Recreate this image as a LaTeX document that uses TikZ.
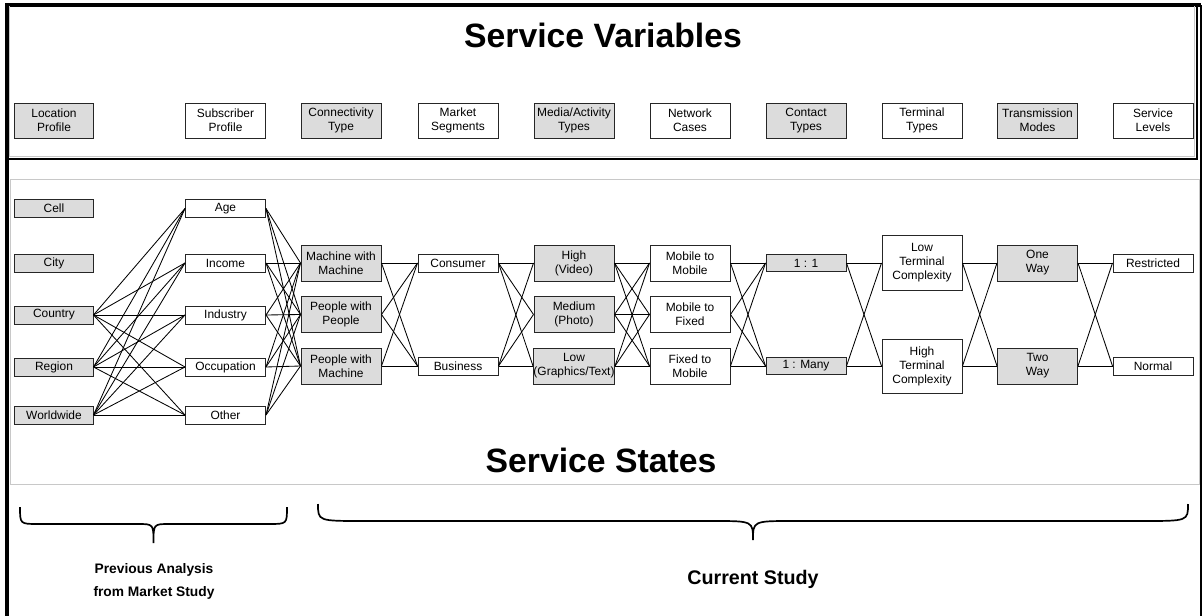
\documentclass[tikz,border=0pt]{standalone}
\usepackage{fontspec}
\setmainfont{Liberation Sans}
\usepackage{tikz}
\definecolor{boxgrey}{RGB}{220,220,220}
\definecolor{panelgrey}{RGB}{200,200,200}
% curly bracket under a group of columns: left, right, top, end curl, tip curl
\newcommand{\studybrace}[5]{%
  \draw[curly] (#1,#3) .. controls (#1,#3+17) .. ({#1+#4},#3+17)
    -- ({(#1+#2)/2-#5},#3+17) .. controls ({(#1+#2)/2},#3+17) .. ({(#1+#2)/2},#3+36)
    .. controls ({(#1+#2)/2},#3+17) .. ({(#1+#2)/2+#5},#3+17)
    -- ({#2-#4},#3+17) .. controls (#2,#3+17) .. (#2,#3);}

\begin{document}
\begin{tikzpicture}[x=0.025cm, y=-0.025cm,
    box/.style={rectangle, draw=black!85, line width=0.7pt, fill=white, inner sep=0pt,
                minimum width=2cm, align=center, font=\fontsize{8.5}{10}\selectfont},
    hdr/.style={box, minimum height=0.875cm},
    st1/.style={box, minimum height=0.45cm},
    st2/.style={box, minimum height=0.9cm},
    st3/.style={box, minimum height=1.35cm},
    gfill/.style={fill=boxgrey},
    link/.style={line width=0.6pt},
    heading/.style={font=\fontsize{24}{28}\selectfont\bfseries},
    note/.style={font=\fontsize{9.8}{16.4}\selectfont\bfseries, align=center},
    curly/.style={line width=1.2pt}]
\useasboundingbox (0,0) rectangle (1203,616);

% outer frame
\draw[line width=0.8pt] (1201,616) -- (1201,5);
\draw[line width=2.2pt] (7,616) -- (7,5) -- (1201,5);
% variables panel
\draw[line width=1pt] (7,159) -- (1197,159) -- (1197,5);
\draw[panelgrey, line width=0.7pt] (9.5,6) -- (9.5,156.5) -- (1194.5,156.5) -- (1194.5,6);
% states panel
\draw[panelgrey, line width=0.7pt] (10,179) rectangle (1199,484);

\node[heading] (tVar) at (603,35) {Service Variables};
\node[heading] (tSta) at (601,460) {Service States};

% variables
\node[hdr, gfill, minimum width=1.95cm] (hLoc) at (54,120.5) {Location\\Profile};
\node[hdr] (hSub) at (225.5,120.5) {Subscriber\\Profile};
\node[hdr, gfill] (hCon) at (341,120.5) {Connectivity\\Type};
\node[hdr] (hMkt) at (458,120.5) {Market\\Segments};
\node[hdr, gfill] (hMed) at (574,120.5) {Media/Activity\\Types};
\node[hdr] (hNet) at (690,120.5) {Network\\Cases};
\node[hdr, gfill] (hCnt) at (806,120.5) {Contact\\Types};
\node[hdr] (hTrm) at (922,120.5) {Terminal\\Types};
\node[hdr, gfill] (hTrn) at (1037.5,120.5) {Transmission\\Modes};
\node[hdr] (hLvl) at (1153,120.5) {Service\\Levels};

% states
\node[st1, gfill, minimum width=1.95cm] (cell) at (54,208.5) {Cell};
\node[st1, gfill, minimum width=1.95cm] (city) at (54,263) {City};
\node[st1, gfill, minimum width=1.95cm] (country) at (54,315) {Country};
\node[st1, gfill, minimum width=1.95cm] (region) at (54,367) {Region};
\node[st1, gfill, minimum width=1.95cm] (world) at (54,415) {Worldwide};

\node[st1] (age) at (225.5,208.5) {Age};
\node[st1] (income) at (225.5,263) {Income};
\node[st1] (industry) at (225.5,315) {Industry};
\node[st1] (occup) at (225.5,367) {Occupation};
\node[st1] (other) at (225.5,415) {Other};

\node[st2, gfill] (mm) at (341,263) {Machine with\\Machine};
\node[st2, gfill] (pp) at (341,314.5) {People with\\People};
\node[st2, gfill] (pm) at (341,366) {People with\\Machine};

\node[st1] (cons) at (458,263) {Consumer};
\node[st1] (bus) at (458,366) {Business};

\node[st2, gfill] (high) at (574,263) {High\\(Video)};
\node[st2, gfill] (medium) at (574,314.5) {Medium\\(Photo)};
\node[st2, gfill] (low) at (574,366) {Low\\(Graphics/Text)};

\node[st2] (m2m) at (690,263) {Mobile to\\Mobile};
\node[st2] (m2f) at (690,314.5) {Mobile to\\Fixed};
\node[st2] (f2m) at (690,366) {Fixed to\\Mobile};

\node[st1, gfill, minimum height=0.425cm] (c11) at (806,263) {1 : 1};
\node[st1, gfill, minimum height=0.425cm] (c1n) at (806,366) {1 : Many};

\node[st3] (ltc) at (922,263) {Low\\Terminal\\Complexity};
\node[st3] (htc) at (922,366) {High\\Terminal\\Complexity};

\node[st2, gfill] (ow) at (1037.5,263) {One\\Way};
\node[st2, gfill] (tw) at (1037.5,366) {Two\\Way};

\node[st1] (restr) at (1153,263) {Restricted};
\node[st1] (normal) at (1153,366) {Normal};

% every state of one column to every state of the next
\foreach \from/\to in {{country,region,world}/{age,income,industry,occup,other},
                       {age,income,industry,occup,other}/{mm,pp,pm},
                       {mm,pp,pm}/{cons,bus},
                       {cons,bus}/{high,medium,low},
                       {high,medium,low}/{m2m,m2f,f2m},
                       {m2m,m2f,f2m}/{c11,c1n},
                       {c11,c1n}/{ltc,htc},
                       {ltc,htc}/{ow,tw},
                       {ow,tw}/{restr,normal}} {
    \foreach \a in \from {
        \foreach \b in \to {
            \draw[link] (\a.east) -- (\b.west);
        }
    }
}

% study scope
\studybrace{20}{287}{507}{18}{16}
\studybrace{318}{1188}{504}{45}{40}
\node[note] (prev) at (154,581) {Previous Analysis\\from Market Study};
\node[note, font=\fontsize{14}{16}\selectfont\bfseries] (cur) at (753,579) {Current Study};
\end{tikzpicture}
\end{document}
